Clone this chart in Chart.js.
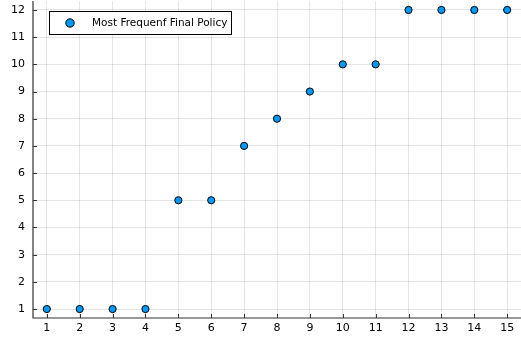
<!DOCTYPE html>
<html>
<head>
<meta charset="utf-8">
<script src="https://cdn.jsdelivr.net/npm/chart.js@4"></script>
<style>
  html, body { margin: 0; padding: 0; background: #fff; }
  #wrap { width: 521px; height: 338px; }
</style>
</head>
<body>
<div id="wrap"><canvas id="myChart" width="521" height="338"></canvas></div>
<script>
// data
const episodes = [1, 2, 3, 4, 5, 6, 7, 8, 9, 10, 11, 12, 13, 14, 15];
const policy = [1, 1, 1, 1, 5, 5, 7, 8, 9, 10, 10, 12, 12, 12, 12];
const xTicks = [1, 2, 3, 4, 5, 6, 7, 8, 9, 10, 11, 12, 13, 14, 15];
const yTicks = [1, 2, 3, 4, 5, 6, 7, 8, 9, 10, 11, 12];
const seriesLabel = 'Most Frequenf Final Policy';

const font = 'DejaVu Sans';

// axis lines on left/bottom with small inward ticks, like the Plots.jl default frame
const axisFrame = {
    id: 'axisFrame',
    afterDatasetsDraw(chart) {
        const ctx = chart.ctx;
        const a = chart.chartArea;
        const xs = chart.scales.x, ys = chart.scales.y;
        ctx.save();
        ctx.strokeStyle = '#333';
        ctx.lineWidth = 1.2;
        ctx.beginPath();
        ctx.moveTo(a.left, a.top);
        ctx.lineTo(a.left, a.bottom);
        ctx.lineTo(a.right, a.bottom);
        ctx.stroke();
        ctx.lineWidth = 1;
        ctx.beginPath();
        xTicks.forEach(t => {
            const p = Math.round(xs.getPixelForValue(t)) + 0.5;
            ctx.moveTo(p, a.bottom);
            ctx.lineTo(p, a.bottom - 4);
        });
        yTicks.forEach(t => {
            const p = Math.round(ys.getPixelForValue(t)) + 0.5;
            ctx.moveTo(a.left, p);
            ctx.lineTo(a.left + 4, p);
        });
        ctx.stroke();
        ctx.restore();
    }
};

// legend box inside the top-left corner
const boxLegend = {
    id: 'boxLegend',
    afterDraw(chart) {
        const ctx = chart.ctx;
        ctx.save();
        ctx.fillStyle = '#fff';
        ctx.strokeStyle = '#000';
        ctx.lineWidth = 1;
        ctx.fillRect(49.5, 11.5, 182, 23);
        ctx.strokeRect(49.5, 11.5, 182, 23);
        ctx.beginPath();
        ctx.arc(70, 23, 4.2, 0, Math.PI * 2);
        ctx.fillStyle = '#009AFA';
        ctx.fill();
        ctx.stroke();
        ctx.fillStyle = '#000';
        ctx.font = '10.5px ' + font;
        ctx.textBaseline = 'middle';
        ctx.fillText(seriesLabel, 92, 23);
        ctx.restore();
    }
};

const ctx = document.getElementById('myChart').getContext('2d');
const chart = new Chart(ctx, {
    type: 'scatter',
    data: {
        datasets: [{
            label: seriesLabel,
            data: episodes.map((e, i) => ({ x: e, y: policy[i] })),
            backgroundColor: '#009AFA',
            borderColor: '#000',
            borderWidth: 1,
            pointRadius: 3.6,
            pointHoverRadius: 3.6
        }]
    },
    options: {
        responsive: false,
        animation: false,
        layout: { autoPadding: false, padding: { top: 1, right: 0, left: 0, bottom: 0 } },
        plugins: {
            legend: { display: false },
            tooltip: { enabled: false }
        },
        scales: {
            x: {
                type: 'linear',
                min: 0.58,
                max: 15.42,
                afterBuildTicks: s => { s.ticks = xTicks.map(v => ({ value: v })); },
                afterFit: s => { s.height = 20; s.paddingLeft = 0; s.paddingRight = 0; },
                border: { display: false },
                grid: { color: 'rgba(0,0,0,0.1)', drawTicks: false },
                ticks: { padding: 4, color: '#000', font: { family: font, size: 11 }, maxRotation: 0, autoSkip: false }
            },
            y: {
                type: 'linear',
                min: 0.67,
                max: 12.33,
                afterBuildTicks: s => { s.ticks = yTicks.map(v => ({ value: v })); },
                afterFit: s => { s.width = 33; s.paddingTop = 0; s.paddingBottom = 0; },
                border: { display: false },
                grid: { color: 'rgba(0,0,0,0.1)', drawTicks: false },
                ticks: { padding: 8, color: '#000', font: { family: font, size: 11 }, autoSkip: false }
            }
        }
    },
    plugins: [axisFrame, boxLegend]
});
</script>
</body>
</html>
